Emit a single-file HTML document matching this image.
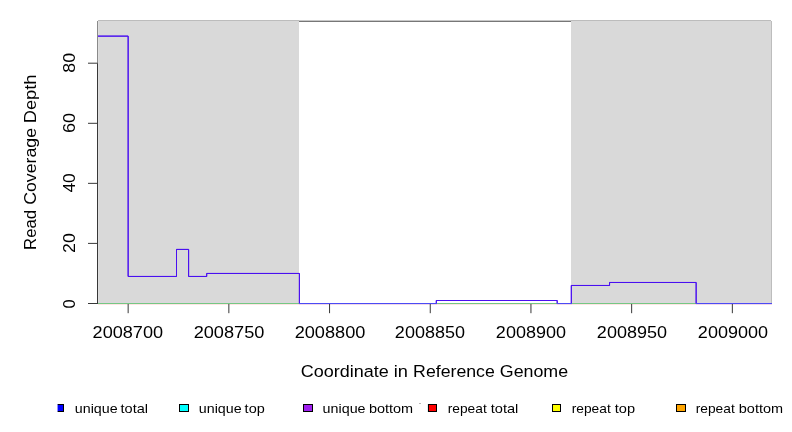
<!DOCTYPE html>
<html><head><meta charset="utf-8">
<style>
html,body{margin:0;padding:0;background:#fff;width:792px;height:432px;overflow:hidden}
svg{display:block;will-change:transform}
text{font-family:"Liberation Sans",sans-serif;fill:#000}
</style></head>
<body>
<svg width="792" height="432" viewBox="0 0 792 432">
<!-- top box line in white region -->
<rect x="299" y="20" width="272" height="1" fill="#c8c8c8" shape-rendering="crispEdges"/>
<rect x="299" y="21" width="272" height="1" fill="#777" shape-rendering="crispEdges"/>
<!-- gray regions -->
<g shape-rendering="crispEdges">
<rect x="98" y="20" width="201" height="283" fill="#d9d9d9"/>
<rect x="98" y="20" width="201" height="1" fill="#bcbcbc"/>
<rect x="98" y="21" width="1" height="282" fill="#dfdfdf"/>
<rect x="571" y="20" width="200" height="283" fill="#d9d9d9"/>
<rect x="571" y="20" width="200" height="1" fill="#bcbcbc"/>
<rect x="771" y="21" width="1" height="282" fill="#bdbdbd"/>
</g>
<!-- zero lines -->
<g shape-rendering="crispEdges">
<rect x="98" y="304" width="674" height="1" fill="#ffe4e4"/>
<rect x="98" y="303" width="674" height="1" fill="#74c884"/>
<rect x="98" y="302" width="201" height="1" fill="#dcd6dc"/>
<rect x="571" y="302" width="200" height="1" fill="#dcd6dc"/>
</g>
<!-- data step line -->
<g fill="none" stroke="#4a10f0" stroke-width="1" stroke-linejoin="miter">
<path d="M98 36.14 H128.15 V276.46 H176.5 V249.43 H188.6 V276.46 H206.7 V273.46 H299.4 V303.5 H436.3 V300.5 H557.2 V303.5 H571.3 V285.48 H609.55 V282.47 H696.15 V303.5 H771.5"/>
<path d="M98 36.14 H128.15 V276.46 H176.5 V249.43 H188.6 V276.46 H206.7 V273.46 H299.4 V303.5 H436.3 V300.5 H557.2 V303.5 H571.3 V285.48 H609.55 V282.47 H696.15 V303.5 H771.5"/>
</g>
<g shape-rendering="crispEdges">
<rect x="299" y="303" width="138" height="1" fill="#4b4bf5"/>
<rect x="557" y="303" width="15" height="1" fill="#4b4bf5"/>
<rect x="696" y="303" width="76" height="1" fill="#4b4bf5"/>
<rect x="299" y="304" width="138" height="1" fill="#f0d8e8"/>
<rect x="557" y="304" width="15" height="1" fill="#f0d8e8"/>
<rect x="696" y="304" width="76" height="1" fill="#f0d8e8"/>
</g>
<!-- left axis -->
<g shape-rendering="crispEdges">
<rect x="97" y="21" width="1" height="42" fill="#8a8a8a"/>
</g>
<g stroke="#383838" stroke-width="1" fill="none">
<path d="M97.5 63.2 V304"/>
<path d="M88 63.2 H97.5"/>
<path d="M88 123.3 H97.5"/>
<path d="M88 183.35 H97.5"/>
<path d="M88 243.4 H97.5"/>
<path d="M88 303.5 H97.5"/>
</g>
<!-- x ticks -->
<g stroke="#383838" stroke-width="1" fill="none">
<path d="M128.15 304 V313.2"/>
<path d="M228.85 304 V313.2"/>
<path d="M329.55 304 V313.2"/>
<path d="M430.25 304 V313.2"/>
<path d="M530.95 304 V313.2"/>
<path d="M631.65 304 V313.2"/>
<path d="M732.35 304 V313.2"/>
</g>
<!-- legend -->
<g shape-rendering="crispEdges" stroke="#000" stroke-width="1">
<rect x="179.5" y="404.5" width="9" height="7" fill="#00ffff"/>
<rect x="303.5" y="404.5" width="9" height="7" fill="#a020f0"/>
<rect x="428.5" y="404.5" width="8" height="7" fill="#ff0000"/>
<rect x="552.5" y="404.5" width="8" height="7" fill="#ffff00"/>
<rect x="676.5" y="404.5" width="9" height="7" fill="#ffa500"/>
</g>
<g shape-rendering="crispEdges">
<rect x="57" y="404" width="7" height="8" fill="#000"/>
<rect x="57" y="405" width="6" height="6" fill="#0000ff"/>
<rect x="57" y="405" width="1" height="6" fill="#9090ff"/>
<rect x="57" y="404" width="1" height="1" fill="#8080c0"/>
<rect x="57" y="411" width="1" height="1" fill="#8080c0"/>
</g>
<g shape-rendering="crispEdges">
<rect x="419" y="403" width="2" height="1" fill="#b8b8b8"/>
<rect x="427" y="404" width="1" height="8" fill="#e2eeee"/>
</g>
<!-- texts -->
<text x="300.80" y="376.8" font-size="16.3" textLength="88.09" lengthAdjust="spacingAndGlyphs">Coordinate</text>
<text x="393.84" y="376.8" font-size="16.3" textLength="14.19" lengthAdjust="spacingAndGlyphs">in</text>
<text x="413.11" y="376.8" font-size="16.3" textLength="81.71" lengthAdjust="spacingAndGlyphs">Reference</text>
<text x="499.78" y="376.8" font-size="16.3" textLength="68.38" lengthAdjust="spacingAndGlyphs">Genome</text>
<text transform="translate(35.8 249.95) rotate(-90)" x="0" y="0" font-size="16.3" textLength="40.00" lengthAdjust="spacingAndGlyphs">Read</text>
<text transform="translate(35.8 204.85) rotate(-90)" x="0" y="0" font-size="16.3" textLength="76.89" lengthAdjust="spacingAndGlyphs">Coverage</text>
<text transform="translate(35.8 123.32) rotate(-90)" x="0" y="0" font-size="16.3" textLength="48.86" lengthAdjust="spacingAndGlyphs">Depth</text>
<text x="92.60" y="337.9" font-size="16.3" textLength="70.46" lengthAdjust="spacingAndGlyphs">2008700</text>
<text x="193.68" y="337.9" font-size="16.3" textLength="70.67" lengthAdjust="spacingAndGlyphs">2008750</text>
<text x="294.68" y="337.9" font-size="16.3" textLength="70.67" lengthAdjust="spacingAndGlyphs">2008800</text>
<text x="394.87" y="337.9" font-size="16.3" textLength="70.14" lengthAdjust="spacingAndGlyphs">2008850</text>
<text x="495.87" y="337.9" font-size="16.3" textLength="70.14" lengthAdjust="spacingAndGlyphs">2008900</text>
<text x="596.87" y="337.9" font-size="16.3" textLength="70.14" lengthAdjust="spacingAndGlyphs">2008950</text>
<text x="697.87" y="337.9" font-size="16.3" textLength="70.14" lengthAdjust="spacingAndGlyphs">2009000</text>
<text transform="translate(75.2 308.38) rotate(-90)" x="0" y="0" font-size="16.3" textLength="9.13" lengthAdjust="spacingAndGlyphs">0</text>
<text transform="translate(75.2 253.01) rotate(-90)" x="0" y="0" font-size="16.3" textLength="19.83" lengthAdjust="spacingAndGlyphs">20</text>
<text transform="translate(75.2 192.55) rotate(-90)" x="0" y="0" font-size="16.3" textLength="19.36" lengthAdjust="spacingAndGlyphs">40</text>
<text transform="translate(75.2 133.12) rotate(-90)" x="0" y="0" font-size="16.3" textLength="20.10" lengthAdjust="spacingAndGlyphs">60</text>
<text transform="translate(75.2 72.69) rotate(-90)" x="0" y="0" font-size="16.3" textLength="19.72" lengthAdjust="spacingAndGlyphs">80</text>
<text x="74.80" y="412.9" font-size="12.2" textLength="42.82" lengthAdjust="spacingAndGlyphs">unique</text>
<text x="120.59" y="412.9" font-size="12.2" textLength="27.50" lengthAdjust="spacingAndGlyphs">total</text>
<text x="198.80" y="412.9" font-size="12.2" textLength="42.82" lengthAdjust="spacingAndGlyphs">unique</text>
<text x="244.61" y="412.9" font-size="12.2" textLength="20.12" lengthAdjust="spacingAndGlyphs">top</text>
<text x="322.64" y="412.9" font-size="12.2" textLength="42.95" lengthAdjust="spacingAndGlyphs">unique</text>
<text x="368.96" y="412.9" font-size="12.2" textLength="44.20" lengthAdjust="spacingAndGlyphs">bottom</text>
<text x="447.73" y="412.9" font-size="12.2" textLength="39.00" lengthAdjust="spacingAndGlyphs">repeat</text>
<text x="490.74" y="412.9" font-size="12.2" textLength="27.63" lengthAdjust="spacingAndGlyphs">total</text>
<text x="571.73" y="412.9" font-size="12.2" textLength="39.00" lengthAdjust="spacingAndGlyphs">repeat</text>
<text x="614.75" y="412.9" font-size="12.2" textLength="20.26" lengthAdjust="spacingAndGlyphs">top</text>
<text x="695.73" y="412.9" font-size="12.2" textLength="39.00" lengthAdjust="spacingAndGlyphs">repeat</text>
<text x="738.80" y="412.9" font-size="12.2" textLength="44.25" lengthAdjust="spacingAndGlyphs">bottom</text>
</svg>
</body></html>
